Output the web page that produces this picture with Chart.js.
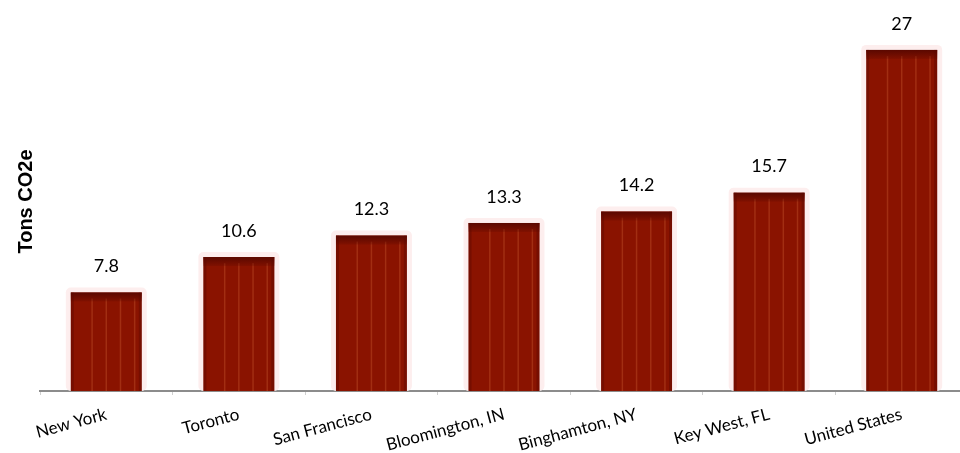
<!DOCTYPE html>
<html>
<head>
<meta charset="utf-8">
<script src="https://cdn.jsdelivr.net/npm/chart.js@4"></script>
<style>
  html, body { margin: 0; padding: 0; background: #fff; overflow: hidden; }
  #wrap { width: 968px; height: 453px; }
</style>
</head>
<body>
<div id="wrap"><canvas id="dataChart" width="968" height="453"></canvas></div>
<script>
// chart data
const cities = ['New York', 'Toronto', 'San Francisco', 'Bloomington, IN', 'Binghamton, NY', 'Key West, FL', 'United States'];
const tonsCO2e = [7.8, 10.6, 12.3, 13.3, 14.2, 15.7, 27];
const valueLabels = ['7.8', '10.6', '12.3', '13.3', '14.2', '15.7', '27'];

// draws the pale halo behind each bar, then stripes, top band and value on top
const haloPlugin = {
    id: 'halo',
    beforeDatasetsDraw(chart) {
        const ctx = chart.ctx;
        chart.getDatasetMeta(0).data.forEach(bar => {
            const l = bar.x - bar.width / 2 - 5, r = bar.x + bar.width / 2 + 5;
            const t = bar.y - 5, b = bar.base;
            ctx.save();
            ctx.fillStyle = '#fdeeee';
            ctx.beginPath();
            ctx.roundRect(l, t, r - l, b - t, 5);
            ctx.fill();
            ctx.restore();
        });
    },
    afterDatasetsDraw(chart) {
        const ctx = chart.ctx;
        chart.getDatasetMeta(0).data.forEach((bar, i) => {
            const l = bar.x - bar.width / 2, w = bar.width;
            const t = bar.y, b = bar.base;
            ctx.save();
            // vertical stripes
            ctx.strokeStyle = 'rgba(190,80,40,0.45)';
            ctx.lineWidth = 1.5;
            [0.3, 0.5, 0.7, 0.9].forEach(f => {
                ctx.beginPath();
                ctx.moveTo(l + w * f, t + 6);
                ctx.lineTo(l + w * f, b);
                ctx.stroke();
            });
            // dark side edges
            ctx.fillStyle = 'rgba(80,5,0,0.35)';
            ctx.fillRect(l, t, 3, b - t);
            ctx.fillRect(l + w - 3, t, 3, b - t);
            // dark top band
            const g = ctx.createLinearGradient(0, t, 0, t + 9);
            g.addColorStop(0, '#5a0800');
            g.addColorStop(1, 'rgba(90,8,0,0.2)');
            ctx.fillStyle = g;
            ctx.fillRect(l, t, w, 9);
            // value label
            ctx.fillStyle = '#000';
            ctx.font = '18px Lato, "Open Sans", sans-serif';
            ctx.textAlign = 'center';
            ctx.textBaseline = 'middle';
            ctx.fillText(valueLabels[i], bar.x, t - 26);
            ctx.restore();
        });
    }
};

const ctx = document.getElementById('dataChart').getContext('2d');

new Chart(ctx, {
    type: 'bar',
    data: {
        labels: cities,
        datasets: [{
            data: tonsCO2e,
            backgroundColor: '#8a1300',
            borderWidth: 0,
            categoryPercentage: 1,
            barPercentage: 0.535
        }]
    },
    options: {
        responsive: false,
        animation: false,
        layout: { padding: { top: 12, left: 0, right: 0, bottom: 0 } },
        plugins: { legend: { display: false }, tooltip: { enabled: false } },
        scales: {
            x: {
                offset: true,
                grid: {
                    offset: true,
                    drawOnChartArea: false,
                    drawTicks: true,
                    tickLength: 4,
                    color: '#d0d0d0'
                },
                border: { display: true, color: '#8c8c8c', width: 2 },
                ticks: {
                    minRotation: 15,
                    maxRotation: 15,
                    padding: 9,
                    color: '#000',
                    font: { family: 'Lato, "Open Sans", sans-serif', size: 17 }
                },
                afterFit(s) { s.height = 62; }
            },
            y: {
                min: 0,
                max: 30,
                grid: { display: false },
                border: { display: false },
                ticks: { display: false },
                title: {
                    display: true,
                    text: 'Tons CO2e',
                    color: '#000',
                    font: { family: '"Liberation Sans", Arial, sans-serif', size: 20, weight: 'bold' },
                    padding: { top: 14, bottom: 0 }
                },
                afterFit(s) { s.width = 40; }
            }
        }
    },
    plugins: [haloPlugin]
});
</script>
</body>
</html>
